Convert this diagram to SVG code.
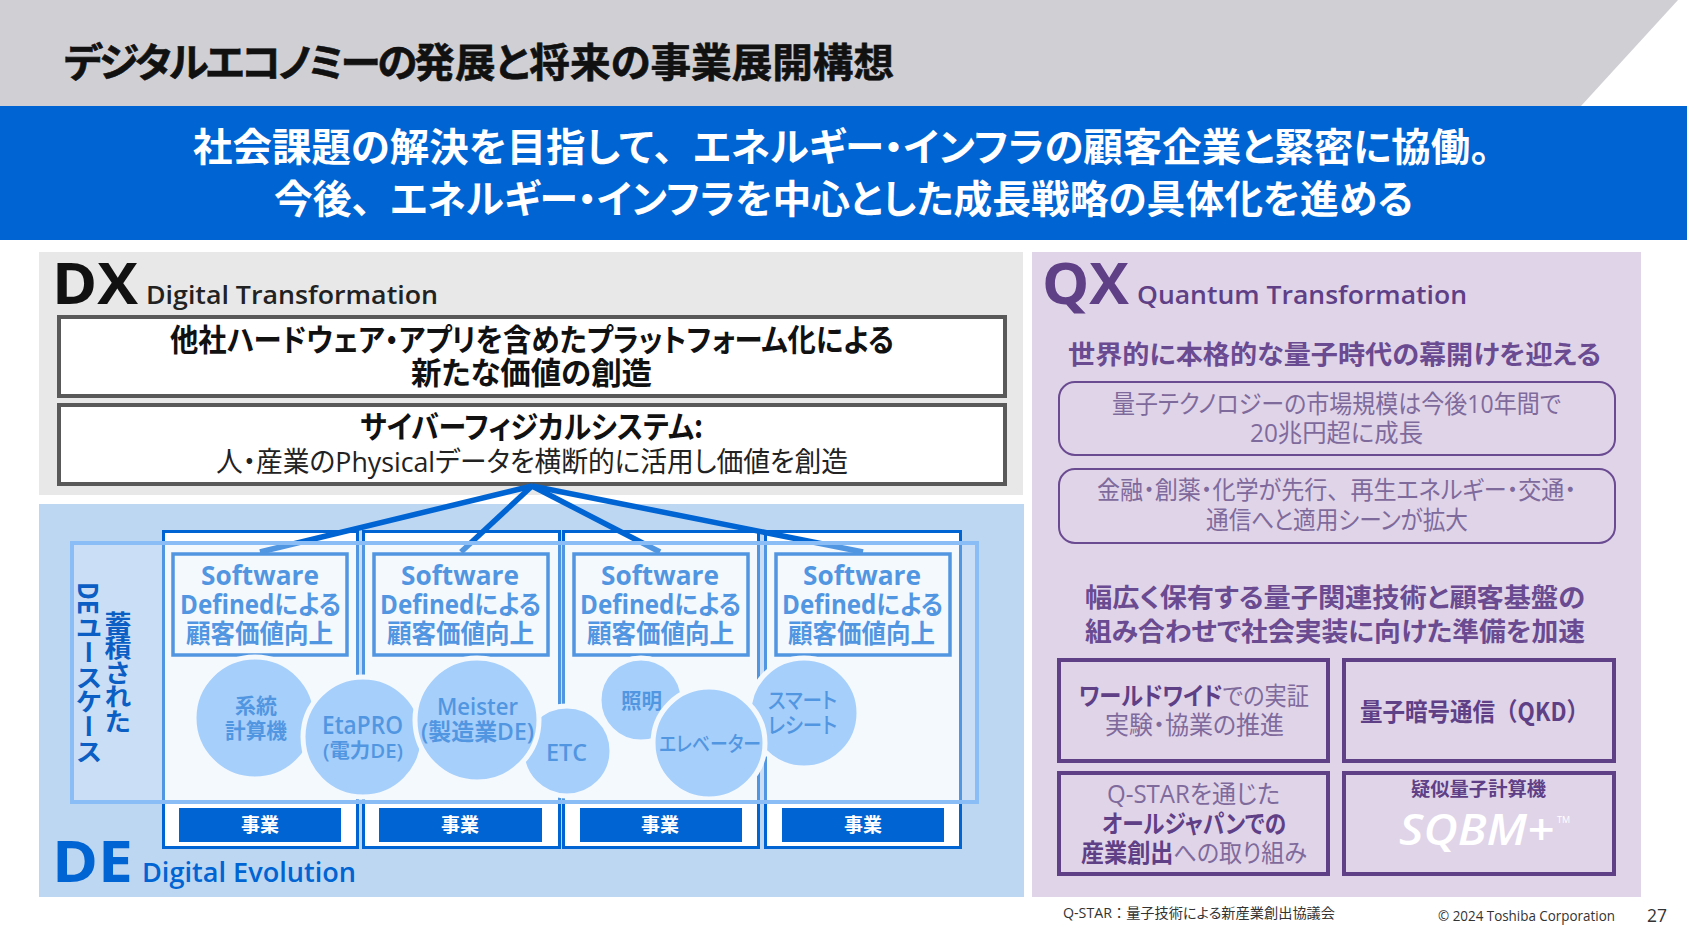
<svg xmlns="http://www.w3.org/2000/svg" width="1687" height="949" viewBox="0 0 1687 949">
<style>
text{font-family:"Open Sans","Noto Sans CJK JP","Noto Sans",sans-serif;font-feature-settings:"palt"}
.b{font-weight:700}
.m{font-weight:500}
.cj{font-family:"Noto Sans CJK JP","Open Sans",sans-serif}
.fw{font-feature-settings:normal}
.w{fill:#fff}
.hv{stroke-width:.6px;paint-order:stroke}
.frame{fill:#fff;stroke:#0064d2;stroke-width:3}
.sd{fill:none;stroke:#0064d2;stroke-width:3.5}
.sdt{fill:#0064d2;font-weight:700;font-size:26px}
.bar{fill:#0064d2}
.barT{fill:#fff;font-weight:700;font-size:19px}
.circ{fill:#86befa;stroke:#fff;stroke-width:5}
.ct{fill:#0064d2;font-weight:600}
.conn{stroke:#0064d2;stroke-width:5.500;fill:none}
.dxb{fill:#fff;stroke:#595959;stroke-width:4}
.q{fill:#5f3f86}
.qh{fill:#6a4a90;font-weight:700}
.qr{fill:none;stroke:#6a4a90;stroke-width:2}
.qb{fill:none;stroke:#5f3f86;stroke-width:4}
.qt{font-size:25px;fill:#7f6a9c}
.qs{fill:#5f3f86;font-weight:700}
</style>
<rect width="1687" height="949" fill="#fff"/>
<g id="header">
<rect width="1687" height="106" fill="#cfcfd4"/>
<polygon points="1581,106 1678,0 1687,0 1687,106" fill="#fff"/>
<text x="64" y="77" class="b cj hv" font-size="40" fill="#111" stroke="#111" textLength="830" lengthAdjust="spacingAndGlyphs"><tspan letter-spacing="-3">デジタルエコノミーの</tspan>発展と将来の事業展開構想</text>
</g>
<g id="banner">
<rect y="106" width="1687" height="134" fill="#0064d2"/>
<text x="193" y="161" class="b w cj" font-size="39" textLength="1297" lengthAdjust="spacingAndGlyphs">社会課題の解決を目指して<tspan class="fw">、</tspan>エネルギー・インフラの顧客企業と緊密に協働。</text>
<text x="274" y="213" class="b w cj" font-size="39" textLength="1139" lengthAdjust="spacingAndGlyphs">今後<tspan class="fw">、</tspan>エネルギー・インフラを中心とした成長戦略の具体化を進める</text>
</g>
<g id="dx-panel">
<rect x="39" y="252" width="984" height="243" fill="#e8e8e8"/>
<text x="52" y="304" class="b" font-size="57" fill="#111" textLength="86" lengthAdjust="spacingAndGlyphs">DX</text>
<text x="146" y="304" font-size="26" font-weight="600" fill="#222" textLength="292" lengthAdjust="spacingAndGlyphs">Digital Transformation</text>
</g>
<g id="dx-platform">
<rect x="59" y="317" width="946" height="79" class="dxb"/>
<text x="170" y="351" class="b cj" font-size="31" fill="#111" textLength="724" lengthAdjust="spacingAndGlyphs">他社ハードウェア・アプリを含めたプラットフォーム化による</text>
<text x="411" y="384" class="b cj" font-size="31" fill="#111" textLength="241" lengthAdjust="spacingAndGlyphs">新たな価値の創造</text>
</g>
<g id="dx-cps">
<rect x="59" y="405" width="946" height="79" class="dxb"/>
<text x="360" y="438" class="b cj" font-size="31" fill="#111" textLength="343" lengthAdjust="spacingAndGlyphs">サイバーフィジカルシステム:</text>
<text x="216" y="472" font-size="28" fill="#222" textLength="632" lengthAdjust="spacingAndGlyphs">人・産業のPhysicalデータを横断的に活用し価値を創造</text>
</g>
<g id="de-panel">
<rect x="39" y="504" width="985" height="393" fill="#bdd7f3"/>
<text x="52" y="882" class="b" font-size="57" fill="#0064d2" textLength="81" lengthAdjust="spacingAndGlyphs">DE</text>
<text x="142" y="882" font-size="27" font-weight="600" fill="#0064d2" textLength="214" lengthAdjust="spacingAndGlyphs">Digital Evolution</text>
</g>
<g id="column-1"><rect x="163.500" y="531.500" width="194" height="316" class="frame"/>
<rect x="179" y="808" width="162" height="34" class="bar"/><text x="241" y="832" class="barT cj" textLength="38" lengthAdjust="spacingAndGlyphs">事業</text></g>
<g id="column-2"><rect x="363.500" y="531.500" width="196" height="316" class="frame"/>
<rect x="379" y="808" width="163" height="34" class="bar"/><text x="441" y="832" class="barT cj" textLength="38" lengthAdjust="spacingAndGlyphs">事業</text></g>
<g id="column-3"><rect x="563.500" y="531.500" width="195" height="316" class="frame"/>
<rect x="580" y="808" width="162" height="34" class="bar"/><text x="641" y="832" class="barT cj" textLength="38" lengthAdjust="spacingAndGlyphs">事業</text></g>
<g id="column-4"><rect x="765.500" y="531.500" width="195" height="316" class="frame"/>
<rect x="782" y="808" width="162" height="34" class="bar"/><text x="844" y="832" class="barT cj" textLength="38" lengthAdjust="spacingAndGlyphs">事業</text></g>
<g id="connectors">
<line x1="532" y1="486" x2="260" y2="552" class="conn"/>
<line x1="532" y1="486" x2="461" y2="552" class="conn"/>
<line x1="532" y1="486" x2="660" y2="552" class="conn"/>
<line x1="532" y1="486" x2="863" y2="552" class="conn"/>
</g>
<g id="sd-1"><rect x="173" y="554" width="174" height="101" class="sd"/>
<text x="201" y="585" class="sdt" textLength="118" lengthAdjust="spacingAndGlyphs">Software</text>
<text x="180" y="614" class="sdt" textLength="161" lengthAdjust="spacingAndGlyphs">Definedによる</text>
<text x="186" y="643" class="sdt cj" textLength="147" lengthAdjust="spacingAndGlyphs">顧客価値向上</text></g>
<g id="sd-2"><rect x="374" y="554" width="174" height="101" class="sd"/>
<text x="401" y="585" class="sdt" textLength="118" lengthAdjust="spacingAndGlyphs">Software</text>
<text x="380" y="614" class="sdt" textLength="161" lengthAdjust="spacingAndGlyphs">Definedによる</text>
<text x="387" y="643" class="sdt cj" textLength="147" lengthAdjust="spacingAndGlyphs">顧客価値向上</text></g>
<g id="sd-3"><rect x="574" y="554" width="174" height="101" class="sd"/>
<text x="601" y="585" class="sdt" textLength="118" lengthAdjust="spacingAndGlyphs">Software</text>
<text x="580" y="614" class="sdt" textLength="161" lengthAdjust="spacingAndGlyphs">Definedによる</text>
<text x="587" y="643" class="sdt cj" textLength="147" lengthAdjust="spacingAndGlyphs">顧客価値向上</text></g>
<g id="sd-4"><rect x="776" y="554" width="174" height="101" class="sd"/>
<text x="803" y="585" class="sdt" textLength="118" lengthAdjust="spacingAndGlyphs">Software</text>
<text x="782" y="614" class="sdt" textLength="161" lengthAdjust="spacingAndGlyphs">Definedによる</text>
<text x="788" y="643" class="sdt cj" textLength="147" lengthAdjust="spacingAndGlyphs">顧客価値向上</text></g>
<g id="c-keito"><circle cx="255" cy="718" r="61" class="circ"/>
<text x="235" y="713" font-size="21" class="ct cj" textLength="42" lengthAdjust="spacingAndGlyphs">系統</text>
<text x="225" y="738" font-size="21" class="ct cj" textLength="62" lengthAdjust="spacingAndGlyphs">計算機</text></g>
<g id="c-etapro"><circle cx="363" cy="737" r="60" class="circ"/>
<text x="322" y="734" font-size="25" class="ct" textLength="81" lengthAdjust="spacingAndGlyphs">EtaPRO</text>
<text x="323" y="758" font-size="20" class="ct" textLength="80" lengthAdjust="spacingAndGlyphs">(電力DE)</text></g>
<g id="c-etc"><circle cx="567" cy="751" r="45" class="circ"/>
<text x="546" y="761" font-size="23" class="ct" textLength="41" lengthAdjust="spacingAndGlyphs">ETC</text></g>
<g id="c-meister"><circle cx="477" cy="720" r="62" class="circ"/>
<text x="437" y="715" font-size="24" class="ct" textLength="81" lengthAdjust="spacingAndGlyphs">Meister</text>
<text x="421" y="740" font-size="23" class="ct" textLength="113" lengthAdjust="spacingAndGlyphs">(製造業DE)</text></g>
<g id="c-shomei"><circle cx="641" cy="700" r="42" class="circ"/>
<text x="621" y="708" font-size="21" class="ct cj" textLength="41" lengthAdjust="spacingAndGlyphs">照明</text></g>
<g id="c-smart"><circle cx="804" cy="713" r="55" class="circ"/>
<text x="768" y="708" font-size="22" class="m cj" fill="#0064d2" textLength="69" lengthAdjust="spacingAndGlyphs">スマート</text>
<text x="768" y="733" font-size="22" class="m cj" fill="#0064d2" textLength="69" lengthAdjust="spacingAndGlyphs">レシート</text></g>
<g id="c-elevator"><circle cx="709" cy="743" r="56" class="circ"/>
<text x="659" y="751" font-size="21" class="m cj" fill="#0064d2" textLength="102" lengthAdjust="spacingAndGlyphs">エレベーター</text></g>
<g id="de-usecases">
<rect x="72" y="543" width="905" height="259" fill="#e0effc" fill-opacity="0.36" stroke="#8abcf5" stroke-width="4"/>
<text x="118" y="611" writing-mode="vertical-rl" font-size="27" class="b cj" fill="#0a5ec4" textLength="123" lengthAdjust="spacingAndGlyphs">蓄積された</text>
<text x="89" y="582" writing-mode="vertical-rl" font-size="27" class="b cj" fill="#0a5ec4" textLength="182" lengthAdjust="spacingAndGlyphs">DEユースケース</text>
</g>
<g id="qx-panel">
<rect x="1032" y="252" width="609" height="645" fill="#e0d4e9"/>
<text x="1042" y="304" class="b q" font-size="57" textLength="87" lengthAdjust="spacingAndGlyphs">QX</text>
<text x="1137" y="304" font-size="26" font-weight="600" class="q" textLength="330" lengthAdjust="spacingAndGlyphs">Quantum Transformation</text>
<text x="1068" y="364" font-size="26" class="qh cj" textLength="533" lengthAdjust="spacingAndGlyphs">世界的に本格的な量子時代の幕開けを迎える</text>
<text x="1085" y="607" font-size="26" class="qh cj" textLength="500" lengthAdjust="spacingAndGlyphs">幅広く保有する量子関連技術と顧客基盤の</text>
<text x="1085" y="641" font-size="26" class="qh cj" textLength="500" lengthAdjust="spacingAndGlyphs">組み合わせで社会実装に向けた準備を加速</text>
</g>
<g id="q-market"><rect x="1059" y="382" width="556" height="73" rx="16" class="qr"/>
<text x="1112" y="413" class="qt" textLength="449" lengthAdjust="spacingAndGlyphs">量子テクノロジーの市場規模は今後10年間で</text>
<text x="1250" y="442" class="qt" textLength="173" lengthAdjust="spacingAndGlyphs">20兆円超に成長</text></g>
<g id="q-scenes"><rect x="1059" y="469" width="556" height="74" rx="16" class="qr"/>
<text x="1097" y="499" class="qt" textLength="479" lengthAdjust="spacingAndGlyphs">金融・創薬・化学が先行<tspan class="fw">、</tspan>再生エネルギー・交通・</text>
<text x="1206" y="529" class="qt" textLength="262" lengthAdjust="spacingAndGlyphs">通信へと適用シーンが拡大</text></g>
<g id="q-worldwide"><rect x="1059" y="660" width="269" height="101" class="qb"/>
<text x="1079" y="705" class="qt" textLength="230" lengthAdjust="spacingAndGlyphs"><tspan class="qs">ワールドワイド</tspan>での実証</text>
<text x="1105" y="734" class="qt" textLength="179" lengthAdjust="spacingAndGlyphs">実験・協業の推進</text></g>
<g id="q-qkd"><rect x="1344" y="660" width="270" height="101" class="qb"/>
<text x="1360" y="721" font-size="25" class="qs cj" textLength="229" lengthAdjust="spacingAndGlyphs">量子暗号通信<tspan class="fw">（</tspan>QKD<tspan class="fw">）</tspan></text></g>
<g id="q-star"><rect x="1059" y="773" width="269" height="101" class="qb"/>
<text x="1107" y="803" class="qt" textLength="173" lengthAdjust="spacingAndGlyphs">Q-STARを通じた</text>
<text x="1102" y="833" font-size="25" class="qs cj" textLength="184" lengthAdjust="spacingAndGlyphs">オールジャパンでの</text>
<text x="1081" y="862" class="qt" textLength="226" lengthAdjust="spacingAndGlyphs"><tspan class="qs">産業創出</tspan>への取り組み</text></g>
<g id="q-sqbm"><rect x="1344" y="773" width="270" height="101" class="qb"/>
<text x="1411" y="796" font-size="19" class="qs cj" textLength="135" lengthAdjust="spacingAndGlyphs">疑似量子計算機</text>
<text x="1399" y="845" font-size="44" font-weight="600" font-style="italic" class="w" textLength="155" lengthAdjust="spacingAndGlyphs">SQBM+</text>
<text x="1557" y="823" font-size="9" class="w">TM</text></g>
<g id="footer">
<text x="1063" y="918" font-size="14" fill="#333" textLength="272" lengthAdjust="spacingAndGlyphs">Q-STAR<tspan class="fw">：</tspan>量子技術による新産業創出協議会</text>
<text x="1438" y="921" font-size="14" fill="#333" textLength="177" lengthAdjust="spacingAndGlyphs">© 2024 Toshiba Corporation</text>
<text x="1647" y="922" font-size="18" fill="#333" textLength="20" lengthAdjust="spacingAndGlyphs">27</text>
</g>
</svg>
